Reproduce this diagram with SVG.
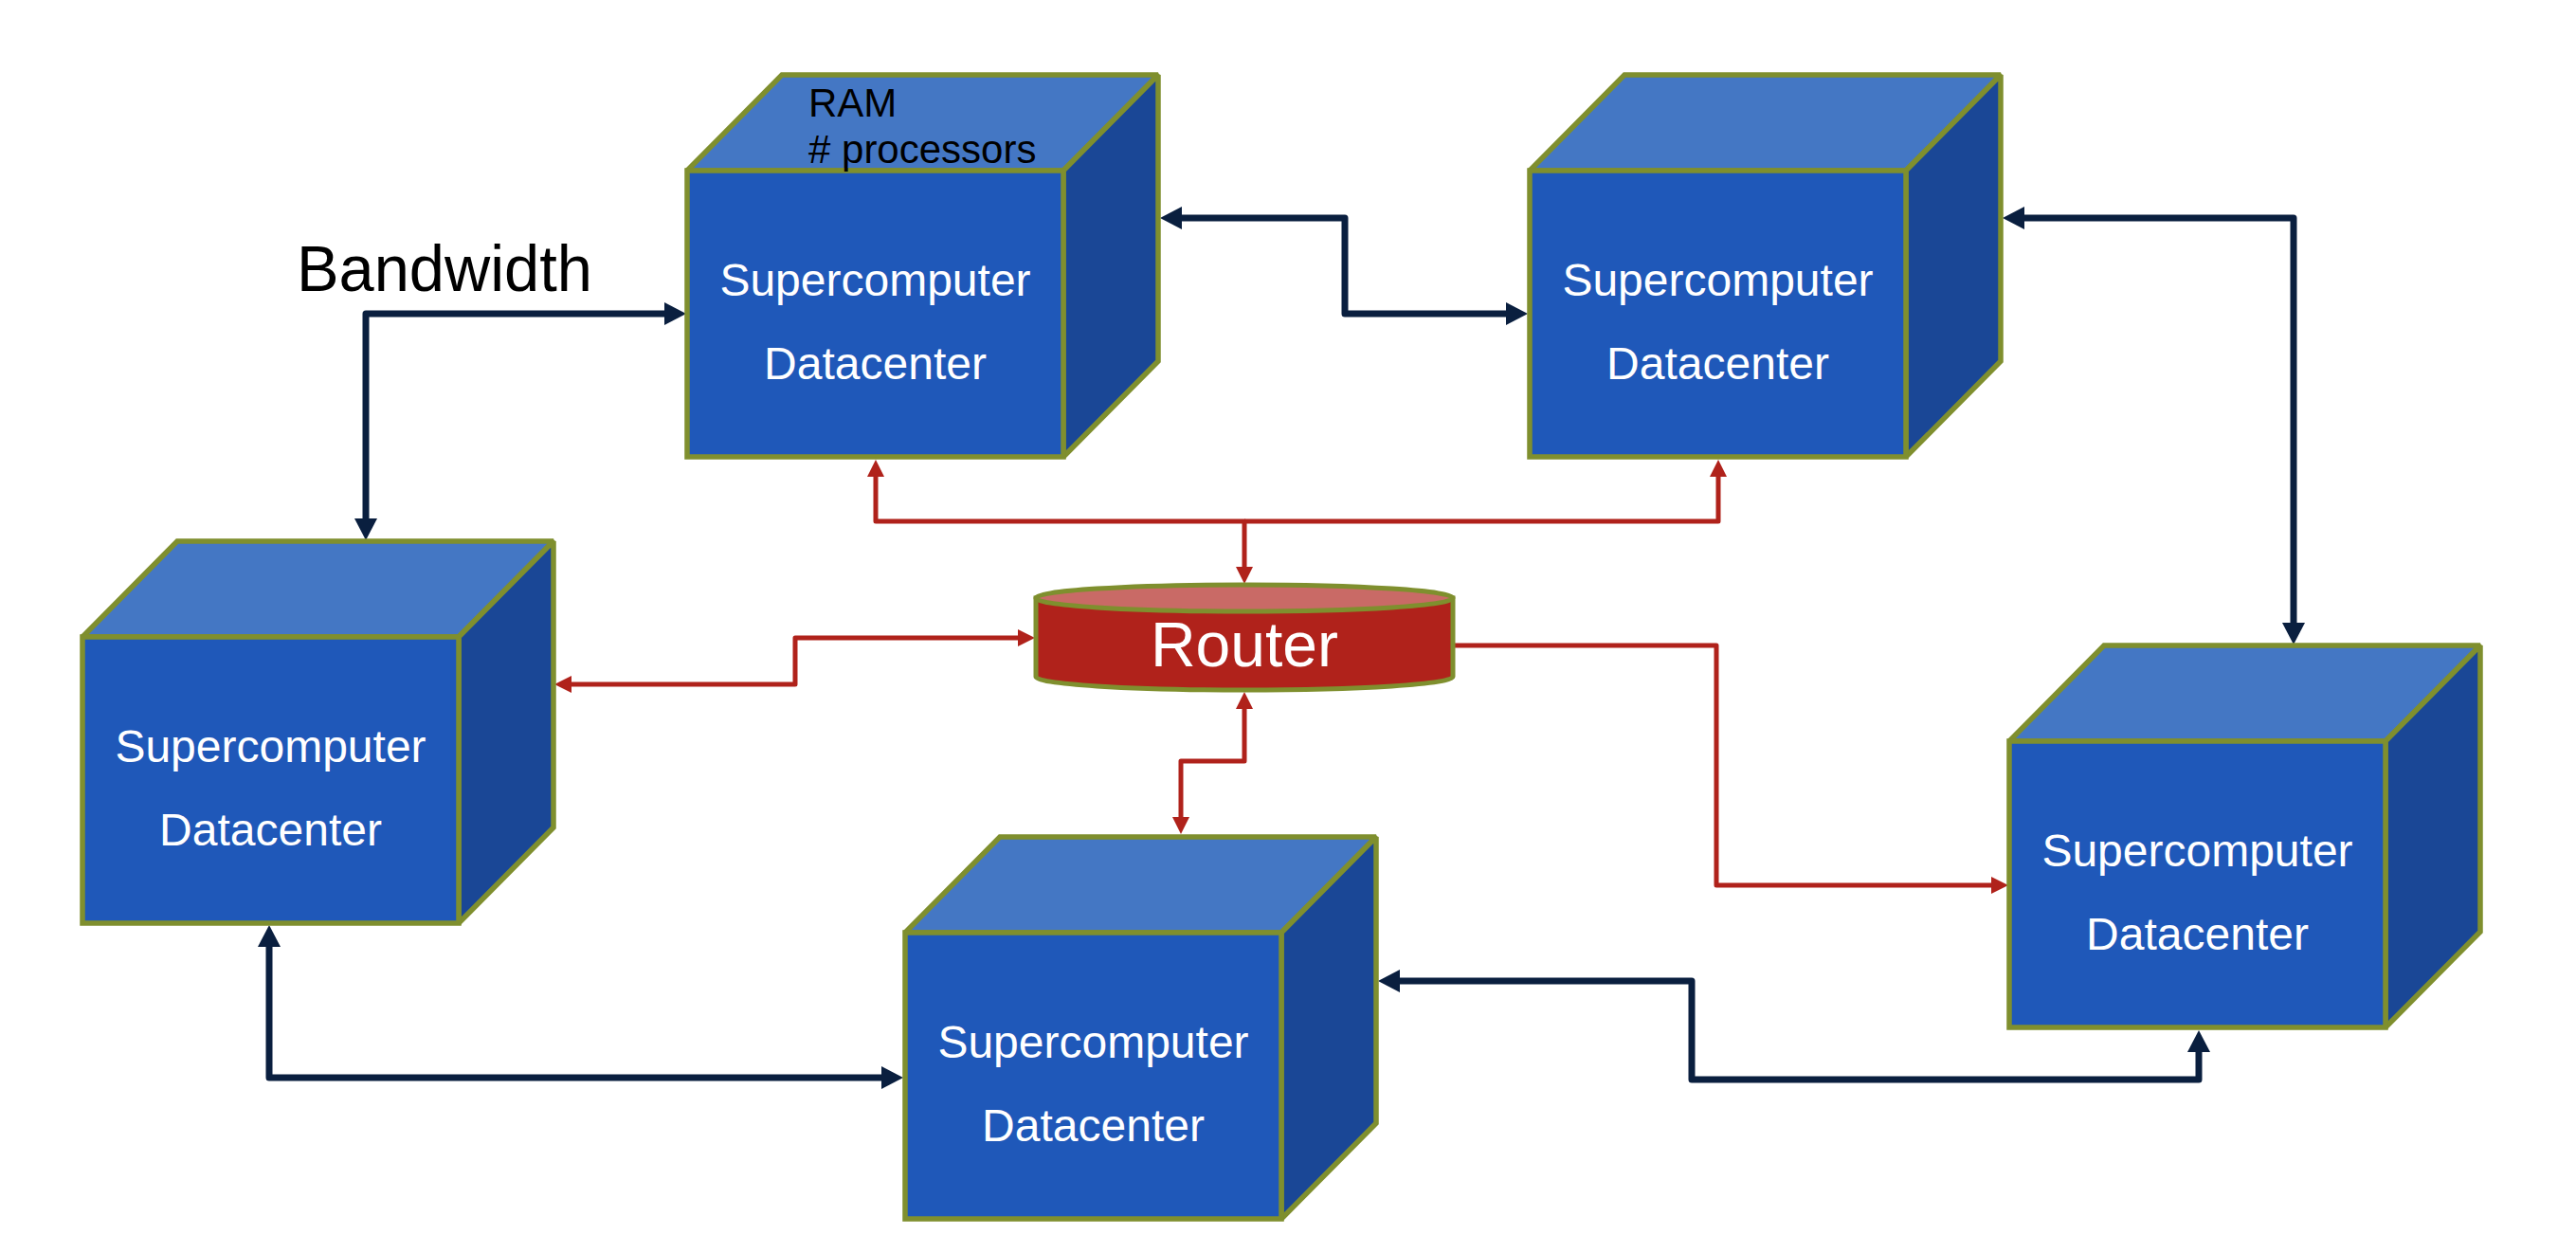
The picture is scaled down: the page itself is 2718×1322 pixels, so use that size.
<svg xmlns="http://www.w3.org/2000/svg" width="2718" height="1322" viewBox="0 0 2718 1322">
<style>
.front{fill:#1f58b9;stroke:#7f8f2e;stroke-width:5.5}
.top{fill:#4477c4;stroke:#7f8f2e;stroke-width:5.5;stroke-linejoin:miter;stroke-miterlimit:1.5}
.side{fill:#1a4796;stroke:#7f8f2e;stroke-width:5.5;stroke-linejoin:miter;stroke-miterlimit:1.5}
.lbl{font-family:"Liberation Sans",Arial,sans-serif;font-size:48px;fill:#ffffff;text-anchor:middle}
.note{font-family:"Liberation Sans",Arial,sans-serif;fill:#000000}
.dark{fill:none;stroke:#0a1f3f;stroke-width:7;stroke-linejoin:round;marker-start:url(#ad);marker-end:url(#ad)}
.red{fill:none;stroke:#b0221b;stroke-width:5;stroke-linejoin:round}
</style>
<defs>
<marker id="ad" markerUnits="userSpaceOnUse" viewBox="0 0 23 24" markerWidth="23" markerHeight="24" refX="1" refY="12" orient="auto-start-reverse"><path d="M0,0 L23,12 L0,24 Z" fill="#0a1f3f"/></marker>
<marker id="ar" markerUnits="userSpaceOnUse" viewBox="0 0 18 18" markerWidth="18" markerHeight="18" refX="1" refY="9" orient="auto-start-reverse"><path d="M0,0 L18,9 L0,18 Z" fill="#b0221b"/></marker>
<g id="cube">
<polygon class="top" points="0,0 100,-101 497,-101 397,0"/>
<polygon class="side" points="397,0 497,-101 497,201 397,302"/>
<rect class="front" x="0" y="0" width="397" height="302"/>
<text class="lbl" x="198.5" y="132">Supercomputer</text>
<text class="lbl" x="198.5" y="220">Datacenter</text>
</g>
</defs>
<rect width="2718" height="1322" fill="#ffffff"/>
<g id="connectors">
<path class="dark" d="M702,331 H386 V548"/>
<path class="dark" d="M1246,230 H1419 V331 H1590"/>
<path class="dark" d="M2135,230 H2420 V658"/>
<path class="dark" d="M284,998 V1137 H931"/>
<path class="dark" d="M1476,1035 H1785 V1139 H2320 V1109"/>
<path class="red" d="M924,502 V550 H1313 V599" marker-start="url(#ar)" marker-end="url(#ar)"/>
<path class="red" d="M1813,502 V550 H1313" marker-start="url(#ar)"/>
<path class="red" d="M1075,673 H839 V722 H602" marker-start="url(#ar)" marker-end="url(#ar)"/>
<path class="red" d="M1313,747 V803 H1246 V863" marker-start="url(#ar)" marker-end="url(#ar)"/>
<path class="red" d="M1535,681 H1811 V934 H2102" marker-end="url(#ar)"/>
</g>
<g id="dc-top-left"><use href="#cube" x="725" y="180"/>
<text class="note" x="853" y="123" font-size="42">RAM</text>
<text class="note" x="853" y="172" font-size="42"># processors</text>
</g>
<g id="dc-top-right"><use href="#cube" x="1614" y="180"/></g>
<g id="dc-left"><use href="#cube" x="87" y="672"/></g>
<g id="dc-bottom"><use href="#cube" x="955" y="984"/></g>
<g id="dc-right"><use href="#cube" x="2120" y="782"/></g>
<g id="router">
<path d="M1093,631 V714 A220,14 0 0 0 1533,714 V631 Z" fill="#b0221b" stroke="#7f8f2e" stroke-width="5"/>
<ellipse cx="1313" cy="631" rx="220" ry="14" fill="#c96a66" stroke="#7f8f2e" stroke-width="5"/>
<text x="1313" y="703" font-family="'Liberation Sans',Arial,sans-serif" font-size="66" fill="#ffffff" text-anchor="middle">Router</text>
</g>
<g id="bandwidth-label">
<text class="note" x="313" y="307" font-size="68" textLength="312" lengthAdjust="spacingAndGlyphs">Bandwidth</text>
</g>
</svg>
